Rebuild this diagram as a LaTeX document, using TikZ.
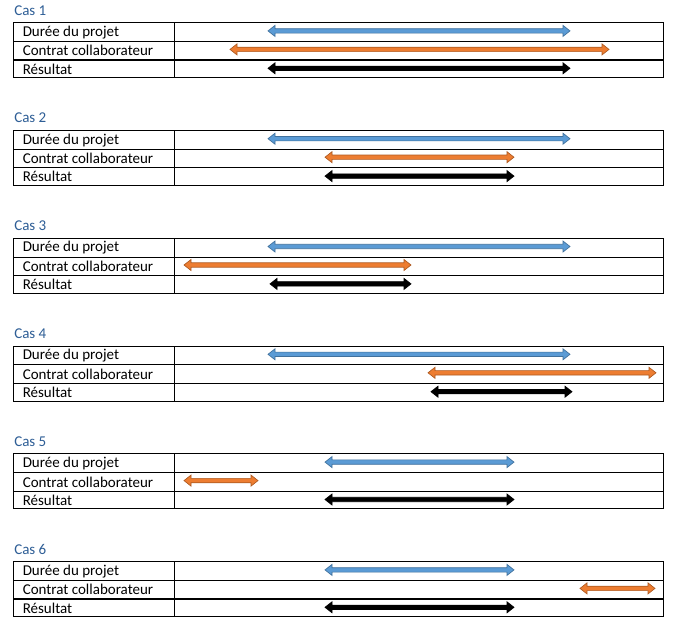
\documentclass[tikz,border=0pt]{standalone}
\usepackage{fontspec}
\setmainfont{Carlito}
\definecolor{ttl}{HTML}{2E5E96}
\definecolor{bfill}{HTML}{5B9BD5}
\definecolor{bline}{HTML}{41719C}
\definecolor{ofill}{HTML}{ED7D31}
\definecolor{oline}{HTML}{AE5A21}
\newcommand{\dblarr}[5]{%
  \filldraw[fill=#1,draw=#2,line width=0.5pt,line join=miter]
    (#3,#5) -- (#3+7,#5-5.5) -- (#3+7,#5-2.2) -- (#4-7,#5-2.2) -- (#4-7,#5-5.5)
    -- (#4,#5) -- (#4-7,#5+5.5) -- (#4-7,#5+2.2) -- (#3+7,#5+2.2) -- (#3+7,#5+5.5) -- cycle;}
\begin{document}
\begin{tikzpicture}[x=0.75pt,y=-0.75pt,
  title/.style={anchor=west,inner sep=0pt,text=ttl,font=\fontsize{11.25pt}{13pt}\selectfont},
  lbl/.style={anchor=west,inner sep=0pt,font=\fontsize{11.25pt}{13pt}\selectfont},
  grid/.style={line width=0.8pt}]
\useasboundingbox[fill=white] (0,0) rectangle (676,633);
\foreach \k/\bA/\bB/\oA/\oB/\kA/\kB in {
  1/268/570/230/609/268/570,
  2/268/570/325/514/325/514,
  3/268/570/184/411/270/411,
  4/268/570/428/656/431/572,
  5/325/514/184/258/325/514,
  6/325/514/580/655/325/514}{
  \pgfmathsetmacro{\t}{22.7+107.8*(\k-1)}
  \node[title] (cas\k) at (14,\t-12.5) {Cas \k};
  \draw[grid] (13.5,\t) rectangle (663.5,\t+55);
  \draw[grid] (13.5,\t+18.8) -- (663.5,\t+18.8);
  \draw[grid] (13.5,\t+37.3) -- (663.5,\t+37.3);
  \draw[grid] (174.5,\t) -- (174.5,\t+55);
  \node[lbl] (d\k) at (22.5,\t+9.6) {Durée du projet};
  \node[lbl] (c\k) at (22.5,\t+28.1) {Contrat collaborateur};
  \node[lbl] (r\k) at (22.5,\t+46.3) {Résultat};
  \dblarr{bfill}{bline}{\bA}{\bB}{\t+8.2}
  \dblarr{ofill}{oline}{\oA}{\oB}{\t+26.7}
  \dblarr{black}{black}{\kA}{\kB}{\t+45.6}
}
\end{tikzpicture}
\end{document}
